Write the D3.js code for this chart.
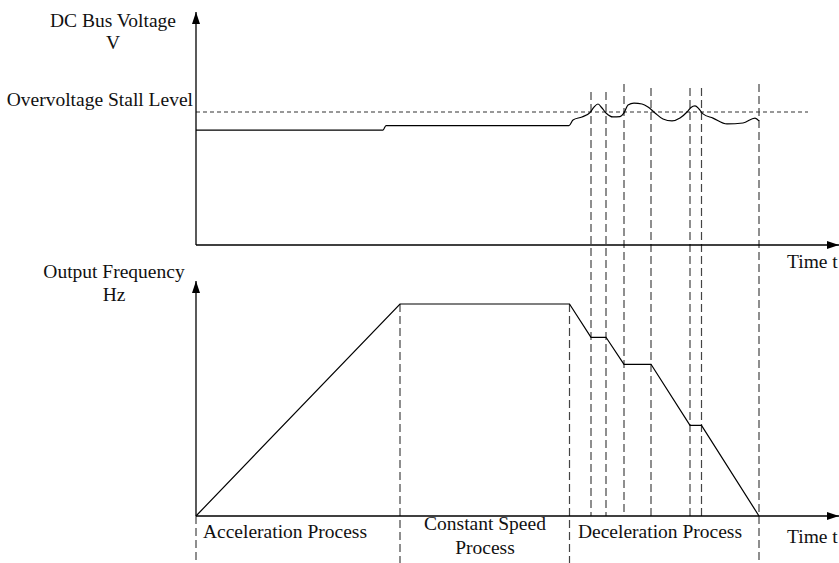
<!DOCTYPE html>
<html>
<head>
<meta charset="utf-8">
<script src="https://cdn.jsdelivr.net/npm/d3@7"></script>
<style>
  body { margin: 0; background: #fff; }
  svg { display: block; }
</style>
</head>
<body>
<svg id="chart" width="839" height="563"></svg>
<script>
// 数据：时间 (s)、母线电压 (V)、输出频率 (Hz)
const voltTimes = [0, 9.35, 9.5, 18.65, 18.85, 19.3, 19.7, 19.9, 20.1, 20.3, 20.5, 20.85, 21.2, 21.4, 21.6, 21.9,
    22.3, 22.6, 22.95, 23.35, 23.8, 24.2, 24.55, 24.75, 24.95, 25.15, 25.35, 25.85, 26.55, 27.35, 27.95, 28.15];
const voltValues = [605, 605, 628, 628, 658, 674, 697, 726, 742, 721, 695, 674, 676, 695, 737, 747,
    742, 726, 695, 663, 653, 668, 700, 724, 732, 716, 690, 668, 637, 642, 668, 653];
const stallLevel = 700;

const freqTimes = [0, 10.2, 18.675, 19.75, 20.5, 21.4, 22.75, 24.7, 25.275, 28.15];
const freqValues = [0, 50, 50, 42.15, 42.15, 35.78, 35.78, 21.39, 21.39, 0];

// 事件时刻（虚线）
const eventTimes = [19.75, 20.5, 21.4, 22.75, 24.7, 25.275];
const processBounds = [0, 10.2, 18.675, 28.15];
const processNames = [["Acceleration Process"], ["Constant Speed", "Process"], ["Deceleration Process"]];

const FONT = "'Times New Roman', 'Liberation Serif', 'DejaVu Serif', serif";

const svg = d3.select("#chart");

// 比例尺
const x = d3.scaleLinear().domain([0, 32]).range([196, 836]);
const yV = d3.scaleLinear().domain([0, 700]).range([245, 112]);
const yF = d3.scaleLinear().domain([0, 50]).range([516, 304]);

// 箭头
svg.append("defs").append("marker")
    .attr("id", "arrow")
    .attr("viewBox", "0 0 12 8")
    .attr("refX", 12).attr("refY", 4)
    .attr("markerWidth", 12).attr("markerHeight", 8)
    .attr("markerUnits", "userSpaceOnUse")
    .attr("orient", "auto")
    .append("path").attr("d", "M0,0 L12,4 L0,8 Z").attr("fill", "#000");

function arrowLine(x1, y1, x2, y2) {
    svg.append("line")
        .attr("x1", x1).attr("y1", y1).attr("x2", x2).attr("y2", y2)
        .attr("stroke", "#000").attr("stroke-width", 1.3)
        .attr("marker-end", "url(#arrow)");
}

function label(px, py, s, anchor) {
    return svg.append("text")
        .attr("x", px).attr("y", py)
        .attr("text-anchor", anchor || "start")
        .attr("font-family", FONT)
        .attr("font-size", 19.5)
        .attr("fill", "#111")
        .text(s);
}

const dashStyle = sel => sel.attr("stroke", "#444").attr("stroke-width", 1.2).attr("stroke-dasharray", "8,4").attr("fill", "none");

// 虚线：事件时刻
const eventTops = [92, 92, 84, 88, 88, 88];
eventTimes.forEach((t, i) => {
    svg.append("line")
        .attr("x1", x(t)).attr("x2", x(t))
        .attr("y1", eventTops[i]).attr("y2", yF(0))
        .call(dashStyle);
});
// 过程边界虚线
svg.append("line").attr("x1", x(0)).attr("x2", x(0)).attr("y1", yF(0)).attr("y2", 563).call(dashStyle);
svg.append("line").attr("x1", x(10.2)).attr("x2", x(10.2)).attr("y1", yF(50)).attr("y2", 563).call(dashStyle);
svg.append("line").attr("x1", x(18.675)).attr("x2", x(18.675)).attr("y1", yF(50)).attr("y2", 563).call(dashStyle);
svg.append("line").attr("x1", x(28.15)).attr("x2", x(28.15)).attr("y1", 84).attr("y2", 563).call(dashStyle);

// 过压失速水平线
svg.append("line")
    .attr("x1", x(0)).attr("x2", 808)
    .attr("y1", yV(stallLevel)).attr("y2", yV(stallLevel))
    .attr("stroke", "#333").attr("stroke-width", 1.1).attr("stroke-dasharray", "4,3");

// 坐标轴
arrowLine(x(0), yV(0), 839, yV(0));
arrowLine(x(0), yV(0), x(0), 12);
arrowLine(x(0), yF(0), 839, yF(0));
arrowLine(x(0), yF(0), x(0), 281);

// 电压曲线
const voltLine = d3.line()
    .x((d, i) => x(voltTimes[i]))
    .y(d => yV(d))
    .curve(d3.curveMonotoneX);
svg.append("path")
    .attr("d", voltLine(voltValues))
    .attr("fill", "none").attr("stroke", "#000").attr("stroke-width", 1.2);

// 频率曲线
const freqLine = d3.line()
    .x((d, i) => x(freqTimes[i]))
    .y(d => yF(d));
svg.append("path")
    .attr("d", freqLine(freqValues))
    .attr("fill", "none").attr("stroke", "#000").attr("stroke-width", 1.2);

// 文字标签
label(113, 27, "DC Bus Voltage", "middle");
label(113, 49, "V", "middle");
label(193, 106, "Overvoltage Stall Level", "end");
label(787, 268, "Time t");
label(114, 278, "Output Frequency", "middle");
label(114, 301, "Hz", "middle");
label(787, 543, "Time t");

// 过程名称
const nameX = [285, 485, 660];
processNames.forEach((lines, i) => {
    const y0 = lines.length > 1 ? 530 : 538;
    lines.forEach((s, j) => label(nameX[i], y0 + j * 24, s, "middle"));
});
</script>
</body>
</html>
